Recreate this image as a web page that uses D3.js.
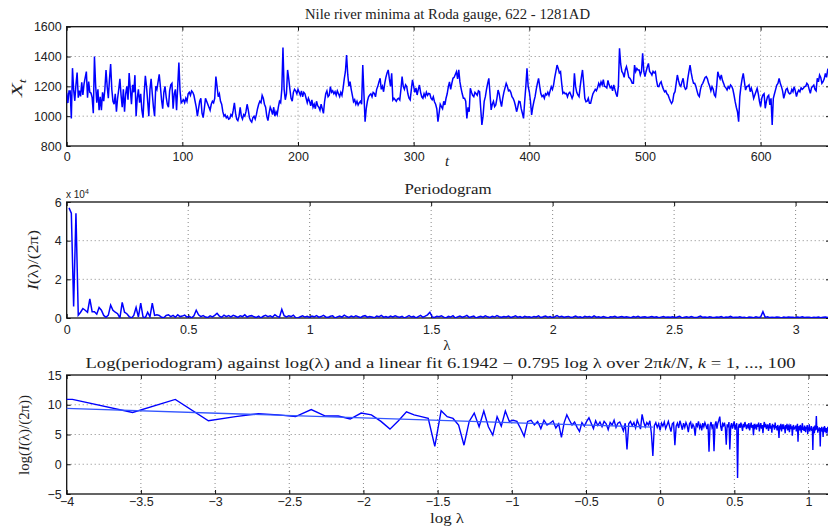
<!DOCTYPE html>
<html>
<head>
<meta charset="utf-8">
<script src="https://cdn.jsdelivr.net/npm/d3@7"></script>
<style>
body { margin: 0; background: #fff; }
.tick text { font-family: "Liberation Sans", Arial, sans-serif; font-size: 12.5px; fill: #222; }
.serif { font-family: "Liberation Serif", "Times New Roman", serif; fill: #222; }
</style>
</head>
<body>
<div class="chart"></div>
<script>
// Nile minima, t = 0..659 (622 - 1281 AD)
let nileMin = [
 1157,1088,1169,1169,984,1322,1178,1103,1211,1292, 1124,1171,1133,1227,1142,1216,1259,1299,1124,1232,
 1160,1155,1124,1020,1400,1210,1090,1180,1040,1130, 1040,1160,1100,1180,1310,1200,1120,1250,1350,1180,
 1100,1080,1150,1030,1120,1180,1250,1140,1060,1180, 1030,1150,1200,1110,1290,1180,1080,1210,1160,1275,
 1000,1120,1180,1090,1150,1040,990,1150,1270,1200, 1100,1000,1180,1250,1150,1060,1000,1200,1180,1230,
 1280,1200,1110,1050,1160,1200,1130,1080,1060,1170, 1210,1220,1050,1150,1180,1040,1200,1360,1170,1090,
 1100,1110,1090,1120,1100,1150,1160,1140,1170,1160, 1140,1100,1060,1000,1050,1100,1120,1020,990,1050,
 1120,1100,1080,1060,1040,1080,1100,1090,1120,1265, 1200,1130,1150,1100,1080,1030,1000,1010,990,1000,
 980,985,1010,1000,1040,1090,1020,980,970,1000, 1060,1000,980,1010,1000,1030,1080,1040,990,970,
 960,990,1000,980,1010,1050,1080,1100,1090,1140, 1120,1080,1060,1000,970,1020,1060,1040,1010,1060,
 1000,1030,1010,1060,1100,1090,1180,1460,1180,1110, 1150,1310,1250,1180,1120,1100,1160,1180,1170,1150,
 1180,1160,1140,1170,1130,1160,1150,1120,1090,1120, 1100,1070,1110,1060,1080,1050,1100,1070,1060,1040,
 1080,1050,1019,1100,1150,1170,1130,1140,1198,1160, 1170,1150,1164,1140,1170,1150,1131,1160,1140,1187,
 1250,1300,1410,1280,1200,1231,1180,1140,1097,1110, 1080,1100,1075,1090,1100,1080,1343,1150,963,1050,
 1100,1130,1142,1150,1130,1160,1153,1130,1180,1200, 1230,1254,1180,1200,1164,1220,1260,1290,1310,1250,
 1200,1287,1109,1120,1110,1100,1115,1120,1109,1180, 1265,1200,1180,1210,1198,1150,1120,1109,1180,1243,
 1200,1160,1190,1142,1180,1209,1160,1130,1120,1150, 1130,1160,1140,1153,1150,1120,1110,1130,1097,1080,
 1050,963,1020,1080,1064,1050,1100,1075,1120,1150, 1198,1230,1180,1220,1254,1260,1280,1298,1250,1310,
 1230,1187,1150,1120,1120,1100,985,1060,1030,1187, 1160,1140,1131,1160,1150,1140,1170,1164,1050,941,
 1000,1100,1131,1180,1220,1254,1150,1042,1080,1100, 1064,1075,1120,1175,1150,1100,1064,1120,1160,1190,
 1220,1200,1170,1175,1160,1131,1120,1100,1070,1030, 1060,1100,1097,1050,1020,985,1100,1200,1321,1200,
 1164,1100,1008,1060,1100,1131,1180,1220,1254,1200, 1150,1131,1140,1120,1150,1142,1160,1140,1170,1198,
 1180,1210,1260,1300,1343,1320,1290,1298,1220,1153, 1160,1150,1153,1130,1153,1160,1142,1120,1142,1287,
 1200,1160,1142,1131,1200,1260,1310,1220,1120,1097, 1100,1120,1086,1086,1120,1150,1164,1180,1170,1190,
 1220,1200,1230,1210,1245,1200,1198,1190,1240,1210, 1190,1200,1170,1209,1180,1150,1131,1200,1455,1350,
 1300,1287,1260,1310,1332,1300,1260,1254,1240,1220, 1220,1343,1300,1320,1310,1310,1276,1300,1421,1300,
 1265,1300,1330,1354,1300,1290,1276,1300,1290,1298, 1240,1200,1198,1220,1231,1200,1180,1164,1170,1150,
 1142,1120,1100,1086,1100,1150,1164,1220,1276,1240, 1209,1200,1230,1254,1200,1180,1187,1250,1298,1343,
 1290,1250,1220,1220,1200,1170,1142,1131,1180,1209, 1220,1240,1260,1265,1250,1220,1200,1170,1198,1180,
 1142,1131,1200,1298,1270,1250,1276,1240,1220,1198, 1190,1176,1198,1187,1209,1200,1180,1142,1097,1060,
 1030,963,1131,1200,1250,1287,1230,1175,1198,1200, 1209,1164,1187,1160,1120,1142,1164,1187,1150,1100,
 1064,1120,1142,1150,1053,1100,1131,1140,1075,1120, 941,1120,1150,1180,1209,1220,1254,1220,1198,1170,
 1120,1150,1180,1187,1160,1150,1153,1180,1164,1198, 1170,1131,1160,1175,1164,1190,1180,1187,1198,1200,
 1220,1210,1180,1153,1190,1200,1209,1180,1170,1254, 1230,1276,1260,1220,1231,1250,1287,1260,1310,1300
];

// log(I(lambda)/(2pi)) at lambda_k = 2*pi*k/N, k = 1..330
let logPer = [
 10.95,10.9,8.7,10.9,7.3,8.0,8.5,8.3,8.0,9.2, 8.1,8.1,7.6,8.6,8.3,7.2,5.9,7.3,8.8,8.3,
 8.0,7.7,3.0,9.0,8.0,7.7,6.6,3.2,7.2,8.6, 6.3,8.95,6.3,4.9,8.0,6.4,8.95,7.2,7.4,7.2,
 6.0,4.7,7.2,7.4,6.6,7.2,6.0,7.4,6.6,6.9, 7.3,6.1,6.8,4.5,7.0,8.3,7.4,6.6,7.1,6.2,
 5.5,7.0,6.4,7.2,7.8,6.9,6.0,7.3,6.5,7.1, 6.3,7.2,6.8,5.8,7.0,6.6,7.4,6.2,6.9,7.1,
 6.4,5.6,6.9,2.5,6.8,7.2,6.5,7.0,6.1,7.4, 6.7,5.9,8.4,7.1,6.3,7.0,6.6,7.3,5.2,1.4,
 6.5,7.0,6.2,6.8,5.7,6.9,6.4,7.1,6.0,6.6, 7.2,6.3,5.5,6.8,7.0,3.2,6.4,6.9,6.1,7.3,
 6.6,5.8,6.9,6.2,7.0,6.5,5.4,6.8,7.1,6.0, 6.7,6.3,4.8,6.9,6.4,7.2,6.1,6.6,5.7,6.9,
 6.3,7.0,6.5,5.9,6.8,2.1,6.4,7.1,6.2,6.7, 2.2,6.6,7.2,6.0,6.9,7.4,8.0,6.3,5.6,6.8,
 6.5,7.0,6.1,3.3,6.7,6.2,7.1,2.5,6.4,6.9, 6.0,6.6,7.2,5.8,6.5,6.9,-2.3,6.2,6.8,6.1,
 7.0,6.4,5.6,6.8,6.2,7.1,6.5,5.9,6.7,6.3, 6.9,5.7,6.4,7.0,6.1,6.6,4.9,6.8,6.2,6.5,
 5.8,6.7,6.3,7.0,5.5,6.4,6.9,6.0,6.6,5.2, 6.5,7.1,6.2,6.8,5.9,6.4,6.7,5.6,6.3,6.9,
 6.0,6.5,5.3,6.8,6.2,6.6,5.8,7.0,6.1,6.4, 5.7,6.6,6.0,4.4,6.5,6.2,6.8,5.5,6.3,6.7,
 5.9,6.4,6.1,5.2,6.6,6.0,6.8,5.7,6.3,6.5, 5.4,6.2,6.7,5.9,6.4,4.8,6.1,6.6,5.8,6.3,
 6.0,6.5,5.5,6.2,6.8,3.8,6.1,6.4,5.7,6.6, 6.0,5.3,6.3,6.9,5.8,6.2,5.6,6.5,6.0,5.4,
 6.3,5.9,6.6,5.1,6.2,6.0,6.7,5.5,6.1,5.8, 6.4,5.6,6.0,2.4,6.3,5.9,5.2,6.5,5.7,6.2,
 8.1,5.8,6.4,5.3,6.0,5.6,6.2,5.9,3.0,6.1, 5.5,6.3,5.8,6.0,4.6,6.2,5.7,6.4,5.4,6.0,
 5.9,5.2,6.1,5.6,6.3,5.0,5.8,6.2,5.5,5.9
];

// linear fit from the title, over k = 1..100
let fitA = 6.1942, fitB = -0.795, fitK = [1, 100];

// tick values
let topXTicks = [0,100,200,300,400,500,600], topYTicks = [800,1000,1200,1400,1600];
let midXTicks = [0,0.5,1,1.5,2,2.5,3], midYTicks = [0,2,4,6];
let botXTicks = [-4,-3.5,-3,-2.5,-2,-1.5,-1,-0.5,0,0.5,1], botYTicks = [-5,0,5,10,15];

let N = nileMin.length;
let lam = logPer.map((d,i) => 2*Math.PI*(i+1)/N);
let perio = logPer.map(d => Math.exp(d));

let outWidth = 828, outHeight = 526;
let left = 66.7, right = 830;

const svg = d3.select('.chart').append('svg')
	.attr("width", outWidth)
	.attr("height", outHeight);

function panel(id, top, bottom, xd, yd, xt, yt, fmtX, fmtY, pad) {
	let xS = d3.scaleLinear().domain(xd).range([left, right]);
	let yS = d3.scaleLinear().domain(yd).range([bottom, top]);
	const g = svg.append("g");

	g.append("clipPath").attr("id", id)
		.append("rect").attr("x", left).attr("y", top)
		.attr("width", right-left).attr("height", bottom-top);

	// dotted grid
	g.selectAll(".gx").data(xt.filter(d => d > xd[0] && d < xd[1])).enter()
		.append("line")
		.attr("x1", d => xS(d)).attr("x2", d => xS(d))
		.attr("y1", top).attr("y2", bottom)
		.attr("stroke", "#888").attr("stroke-dasharray", "1,3");
	g.selectAll(".gy").data(yt.filter(d => d > yd[0] && d < yd[1])).enter()
		.append("line")
		.attr("y1", d => yS(d)).attr("y2", d => yS(d))
		.attr("x1", left).attr("x2", right)
		.attr("stroke", "#888").attr("stroke-dasharray", "1,3");

	g.append("g").attr("transform", `translate(0,${bottom})`)
		.call(d3.axisBottom(xS).tickValues(xt).tickFormat(fmtX).tickSizeInner(-4).tickSizeOuter(0).tickPadding(pad));
	g.append("g").attr("transform", `translate(0,${top})`)
		.call(d3.axisTop(xS).tickValues(xt).tickFormat("").tickSizeInner(-4).tickSizeOuter(0));
	g.append("g").attr("transform", `translate(${left},0)`)
		.call(d3.axisLeft(yS).tickValues(yt).tickFormat(fmtY).tickSizeInner(-4).tickSizeOuter(0).tickPadding(5));
	g.append("g").attr("transform", `translate(${right},0)`)
		.call(d3.axisRight(yS).tickValues(yt).tickFormat("").tickSizeInner(-4).tickSizeOuter(0));
	g.selectAll(".domain").remove();
	g.selectAll(".tick line").attr("stroke", "#111");

	g.append("rect").attr("x", left).attr("y", top)
		.attr("width", right-left).attr("height", bottom-top)
		.attr("fill", "none").attr("stroke", "#111").attr("stroke-width", 1.3);

	return {g: g, x: xS, y: yS};
}

// serif text, stretched to the width it has in the reference
function title(x, y, html, size, len) {
	let t = svg.append("text").attr("class", "serif")
		.attr("x", x).attr("y", y).attr("text-anchor", "middle")
		.style("font-size", size + "px").html(html);
	if (len) t.attr("textLength", len).attr("lengthAdjust", "spacingAndGlyphs");
	return t;
}
function ylabel(x, y, html, size, len) {
	svg.append("text").attr("class", "serif")
		.attr("transform", `translate(${x},${y}) rotate(-90)`)
		.attr("text-anchor", "middle").style("font-size", size + "px")
		.attr("textLength", len).attr("lengthAdjust", "spacingAndGlyphs")
		.html(html);
}

const minus = d => d < 0 ? "\u2212" + Math.abs(d) : d;

// ---- top: the series
let p1 = panel("c1", 26.7, 146, [0, 660], [800, 1600], topXTicks, topYTicks, d => d, d => d, 6);
p1.g.append("path").datum(nileMin)
	.attr("clip-path", "url(#c1)")
	.attr("fill", "none").attr("stroke", "#0000ff").attr("stroke-width", 1.5)
	.attr("d", d3.line().x((d,i) => p1.x(i)).y(d => p1.y(d)));
title(447.5, 19, "Nile river minima at Roda gauge, 622 - 1281AD", 14, 285);
title(447, 166, "<tspan font-style='italic'>t</tspan>", 15);
ylabel(22, 88, "<tspan font-style='italic'>X</tspan><tspan font-style='italic' font-size='10px' dy='4'>t</tspan>", 15, 18);

// ---- middle: periodogram
let p2 = panel("c2", 202, 318, [0, Math.PI], [0, 60000], midXTicks, midYTicks.map(d => d*1e4), d => d, d => d/1e4, 7);
p2.g.append("path").datum(perio)
	.attr("clip-path", "url(#c2)")
	.attr("fill", "none").attr("stroke", "#0000ff").attr("stroke-width", 1.5)
	.attr("d", d3.line().x((d,i) => p2.x(lam[i])).y(d => p2.y(d)));
title(448, 194, "Periodogram", 14, 87);
title(447, 350, "\u03bb", 15);
svg.append("text")
	.attr("x", 66).attr("y", 198)
	.style("font-family", "Liberation Sans, Arial, sans-serif").style("font-size", "10px").attr("fill", "#222")
	.html("x 10<tspan font-size='7px' dy='-4'>4</tspan>");
ylabel(38, 260, "<tspan font-style='italic'>I</tspan>(\u03bb)/(2\u03c0)", 14, 60);

// ---- bottom: log periodogram with fit
let p3 = panel("c3", 375, 494, [-4, Math.log(Math.PI)], [-5, 15], botXTicks, botYTicks, minus, minus, 3);
p3.g.append("path").datum(logPer)
	.attr("clip-path", "url(#c3)")
	.attr("fill", "none").attr("stroke", "#0000ff").attr("stroke-width", 1.4)
	.attr("d", d3.line().x((d,i) => p3.x(Math.log(lam[i]))).y(d => p3.y(d)));
p3.g.append("path").datum(fitK.map(k => Math.log(lam[k-1])))
	.attr("clip-path", "url(#c3)")
	.attr("fill", "none").attr("stroke", "#3355ff").attr("stroke-width", 1.3)
	.attr("d", d3.line().x(d => p3.x(d)).y(d => p3.y(fitA + fitB*d)));
title(440.5, 368, "Log(periodogram) against log(\u03bb) and a linear fit 6.1942 \u2212 0.795 log \u03bb over 2\u03c0<tspan font-style='italic'>k</tspan>/<tspan font-style='italic'>N</tspan>, <tspan font-style='italic'>k</tspan> = 1, ..., 100", 14, 710);
title(447, 523, "log \u03bb", 14, 34);
ylabel(29, 435, "log(<tspan font-style='italic'>I</tspan>(\u03bb)/(2\u03c0))", 14, 80);
</script>
</body>
</html>
